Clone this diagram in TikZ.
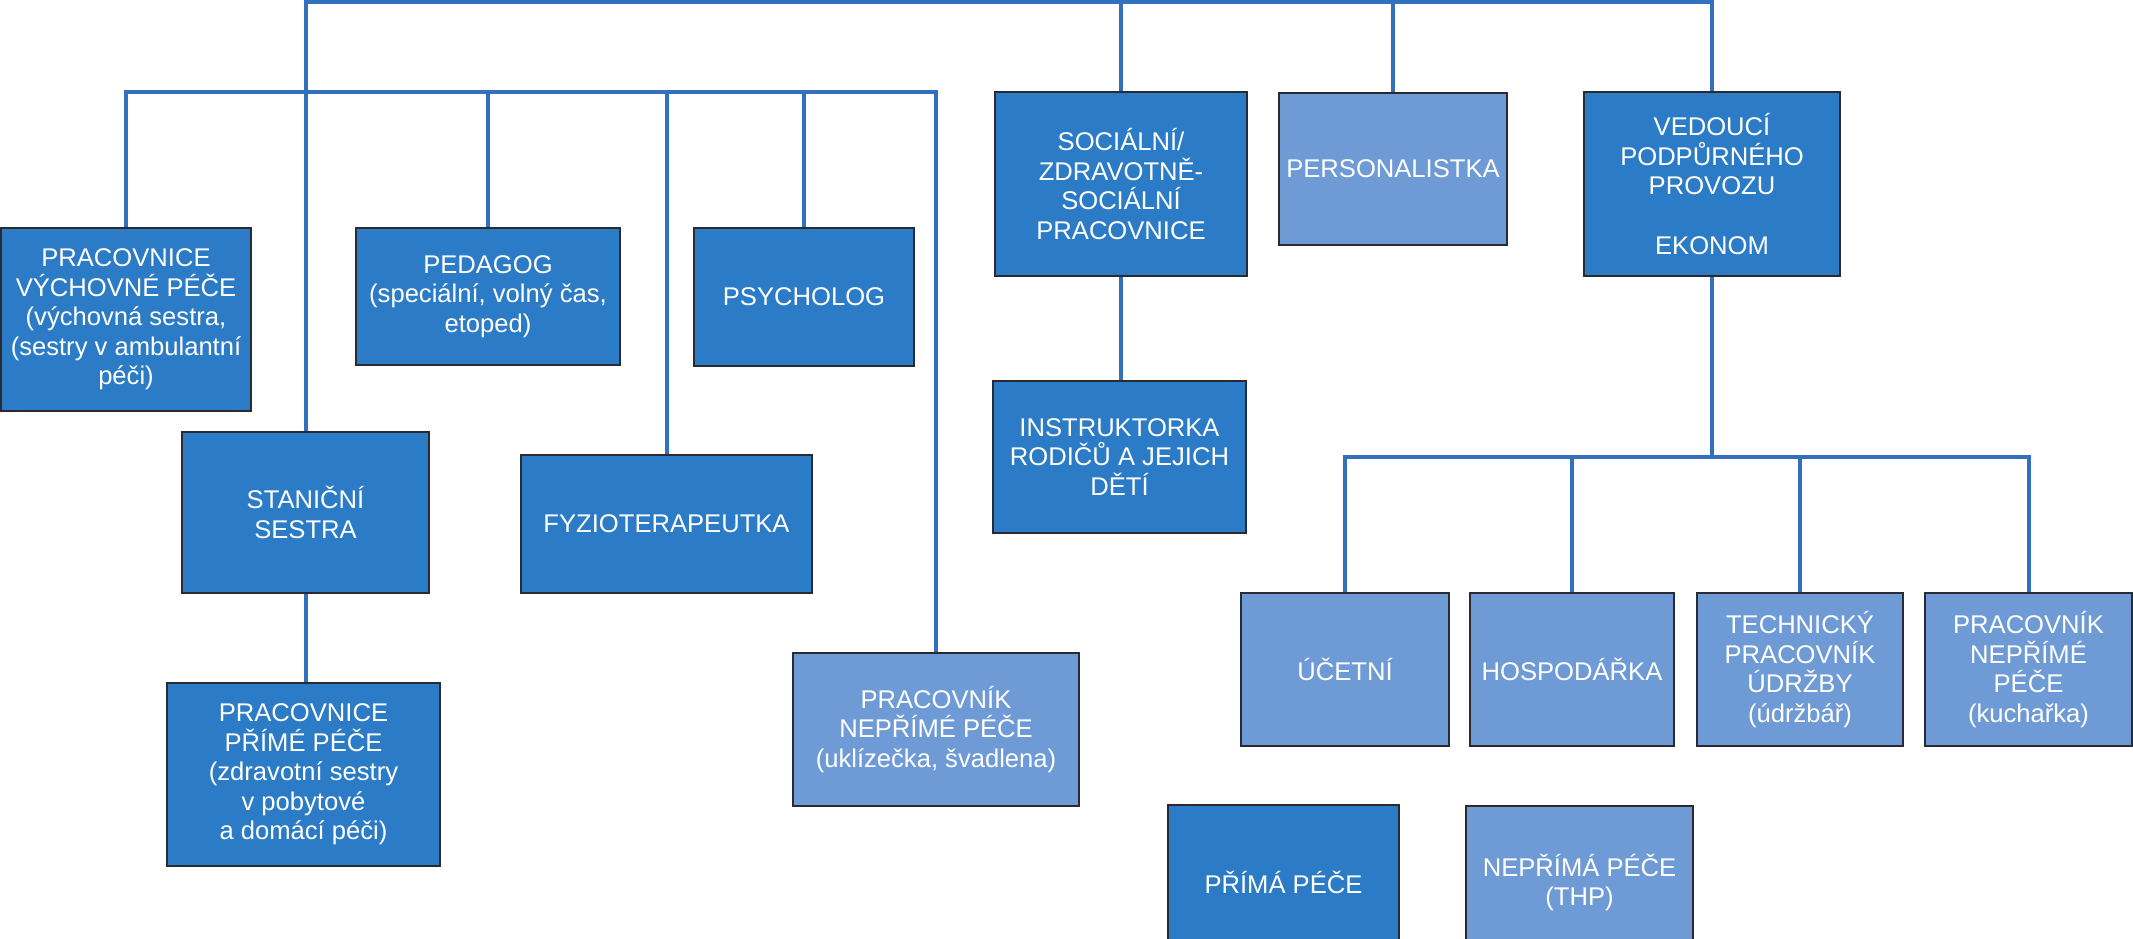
\documentclass[tikz,border=0pt]{standalone}
\usepackage{fontspec}
\setmainfont{Liberation Sans}
\definecolor{darkbox}{HTML}{2B7BC6}
\definecolor{lightbox}{HTML}{6E9BD6}
\definecolor{conn}{HTML}{3270BE}
\definecolor{edge}{HTML}{2A2A33}
\tikzset{
  boxbase/.style={draw=edge, line width=1.2pt, text=white, align=center, inner sep=0pt,
    font=\fontsize{12.8pt}{14.8pt}\selectfont},
  darkb/.style={boxbase, fill=darkbox},
  lightb/.style={boxbase, fill=lightbox},
  link/.style={draw=conn, line width=2pt}
}
\begin{document}
\begin{tikzpicture}[x=0.5pt,y=-0.5pt]
\useasboundingbox (0,0) rectangle (2133,938);
\clip (0,0) rectangle (2133,938);
\fill[white] (0,0) rectangle (2133,938);
% boxes
\node[darkb, minimum width=125pt, minimum height=91.5pt] (vych) at (126,319.5)
  {PRACOVNICE\\VÝCHOVNÉ PÉČE\\(výchovná sestra,\\(sestry v ambulantní\\péči)};
\node[darkb, minimum width=132pt, minimum height=68.5pt] (ped) at (488,296.5)
  {PEDAGOG\\(speciální, volný čas,\\etoped)};
\node[darkb, minimum width=110pt, minimum height=69pt] (psy) at (804,297) {PSYCHOLOG};
\node[darkb, minimum width=123.5pt, minimum height=80.5pt] (stan) at (305.5,512.5)
  {STANIČNÍ\\SESTRA};
\node[darkb, minimum width=145.5pt, minimum height=69pt] (fyz) at (666.5,524) {FYZIOTERAPEUTKA};
\node[darkb, minimum width=136.5pt, minimum height=91.5pt] (prime) at (303.5,774.5)
  {PRACOVNICE\\PŘÍMÉ PÉČE\\(zdravotní sestry\\v pobytové\\a domácí péči)};
\node[lightb, minimum width=143pt, minimum height=76.5pt] (ukl) at (936,729.5)
  {PRACOVNÍK\\NEPŘÍMÉ PÉČE\\(uklízečka, švadlena)};
\node[darkb, minimum width=126pt, minimum height=92pt] (soc) at (1121,184)
  {SOCIÁLNÍ/\\ZDRAVOTNĚ-\\SOCIÁLNÍ\\PRACOVNICE};
\node[darkb, minimum width=126.5pt, minimum height=76pt] (instr) at (1119.5,457)
  {INSTRUKTORKA\\RODIČŮ A JEJICH\\DĚTÍ};
\node[lightb, minimum width=114pt, minimum height=76pt] (pers) at (1393,169) {PERSONALISTKA};
\node[darkb, minimum width=128pt, minimum height=92pt] (ved) at (1712,184)
  {VEDOUCÍ\\PODPŮRNÉHO\\PROVOZU\\[14.8pt]EKONOM};
\node[lightb, minimum width=104pt, minimum height=76.5pt] (uce) at (1345,669.5) {ÚČETNÍ};
\node[lightb, minimum width=102pt, minimum height=76.5pt] (hos) at (1572,669.5) {HOSPODÁŘKA};
\node[lightb, minimum width=103pt, minimum height=76.5pt] (tech) at (1800,669.5)
  {TECHNICKÝ\\PRACOVNÍK\\ÚDRŽBY\\(údržbář)};
\node[lightb, minimum width=103.5pt, minimum height=76.5pt] (kuch) at (2028.5,669.5)
  {PRACOVNÍK\\NEPŘÍMÉ\\PÉČE\\(kuchařka)};
\node[darkb, minimum width=115.5pt, minimum height=77pt] (prima) at (1283.5,882) {PŘÍMÁ PÉČE};
\node[lightb, minimum width=113.5pt, minimum height=76.5pt] (thp) at (1579.5,882.5)
  {NEPŘÍMÁ PÉČE\\(THP)};
% connector levels
\coordinate (top) at (0,2);
\coordinate (lvl) at (0,92);
\coordinate (rlvl) at (0,457);
% top line
\draw[link] (stan.north) -- (stan.north |- top) -- (ved.north |- top) -- (ved.north);
\draw[link] (soc.north |- top) -- (soc.north);
\draw[link] (pers.north |- top) -- (pers.north);
% second level
\draw[link] (vych.north) -- (vych.north |- lvl) -- (ukl.north |- lvl) -- (ukl.north);
\draw[link] (ped.north |- lvl) -- (ped.north);
\draw[link] (fyz.north |- lvl) -- (fyz.north);
\draw[link] (psy.north |- lvl) -- (psy.north);
% vertical children
\draw[link] (stan.south) -- (stan.south |- prime.north);
\draw[link] (soc.south) -- (soc.south |- instr.north);
% right branch
\draw[link] (ved.south) -- (ved.south |- rlvl);
\draw[link] (uce.north) -- (uce.north |- rlvl) -- (kuch.north |- rlvl) -- (kuch.north);
\draw[link] (hos.north |- rlvl) -- (hos.north);
\draw[link] (tech.north |- rlvl) -- (tech.north);
\end{tikzpicture}
\end{document}
